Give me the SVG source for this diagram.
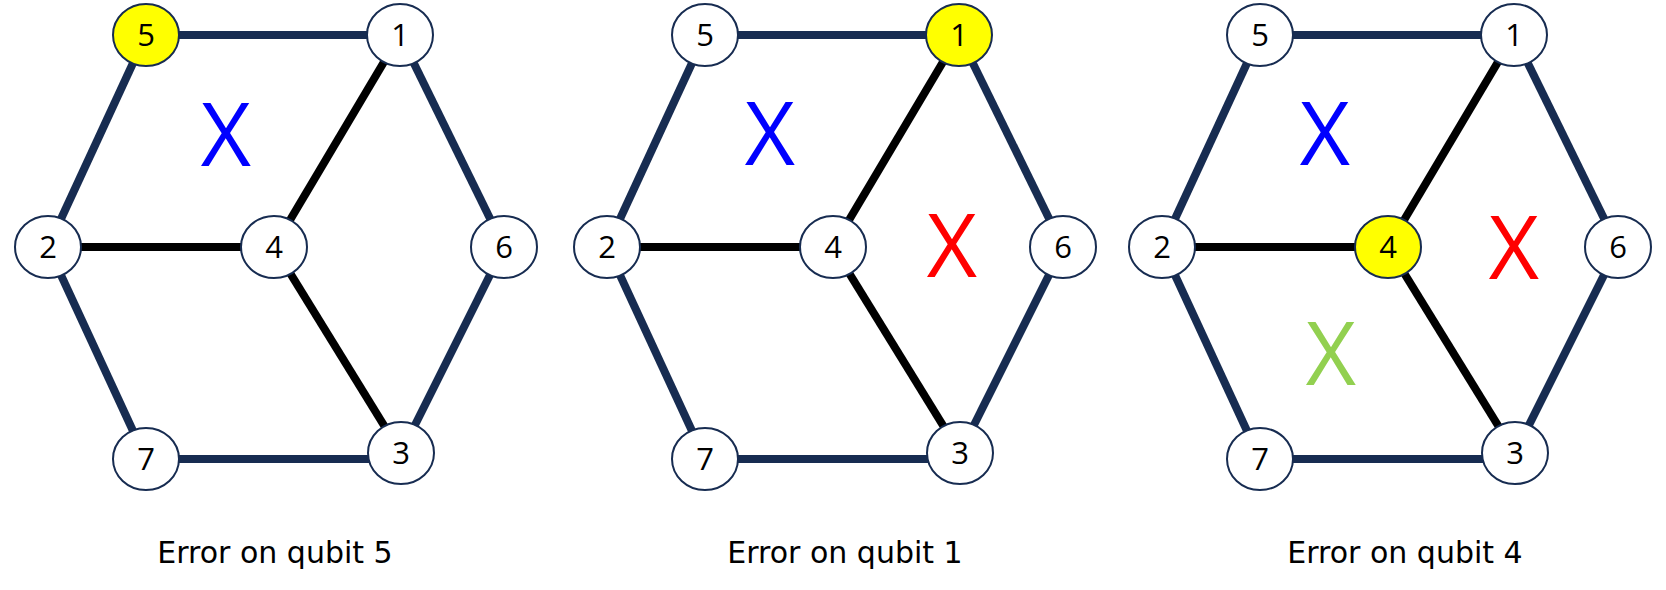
<svg xmlns="http://www.w3.org/2000/svg" width="1666" height="590" viewBox="0 0 1666 590">
<style>
.bg{fill:#ffffff}
.nv{stroke:#172C51;stroke-width:8;fill:none}
.bk{stroke:#000000;stroke-width:8;fill:none}
.nd ellipse{fill:#ffffff;stroke:#172C51;stroke-width:2}
.nd.hl ellipse{fill:#FFFF00}
.nd text{font-family:"Open Sans","Noto Sans",sans-serif;font-size:31px;fill:#000000;text-anchor:middle}
.xl{font-family:"Open Sans","Noto Sans",sans-serif;font-size:87px;text-anchor:middle}
.xb{fill:#0000FF}
.xr{fill:#FF0000}
.xg{fill:#92D050}
.cap{font-family:"DejaVu Sans","Noto Sans",sans-serif;font-size:30px;fill:#000000;text-anchor:middle}
</style>
<rect class="bg" x="0" y="0" width="1666" height="590"/>

<!-- Panel 1 -->
<g id="panel1" transform="translate(146,0)">
  <g id="p1-connectors">
    <line class="nv" x1="0" y1="35" x2="254" y2="35"/>
    <line class="nv" x1="0" y1="35" x2="-98" y2="247"/>
    <line class="nv" x1="-98" y1="247" x2="0" y2="459"/>
    <line class="nv" x1="0" y1="459" x2="235" y2="459"/>
    <line class="nv" x1="254" y1="35" x2="358" y2="247"/>
    <line class="nv" x1="358" y1="247" x2="255" y2="453"/>
    <line class="bk" x1="-98" y1="247" x2="128" y2="247"/>
    <line class="bk" x1="128" y1="247" x2="254" y2="35"/>
    <line class="bk" x1="128" y1="247" x2="255" y2="453"/>
  </g>
  <g id="p1-n5" class="nd hl"><ellipse cx="0" cy="35" rx="33" ry="31"/><text x="0" y="46">5</text></g>
  <g id="p1-n1" class="nd"><ellipse cx="254" cy="35" rx="33" ry="31"/><text x="254" y="46">1</text></g>
  <g id="p1-n2" class="nd"><ellipse cx="-98" cy="247" rx="33" ry="31"/><text x="-98" y="258">2</text></g>
  <g id="p1-n4" class="nd"><ellipse cx="128" cy="247" rx="33" ry="31"/><text x="128" y="258">4</text></g>
  <g id="p1-n6" class="nd"><ellipse cx="358" cy="247" rx="33" ry="31"/><text x="358" y="258">6</text></g>
  <g id="p1-n7" class="nd"><ellipse cx="0" cy="459" rx="33" ry="31"/><text x="0" y="470">7</text></g>
  <g id="p1-n3" class="nd"><ellipse cx="255" cy="453" rx="33" ry="31"/><text x="255" y="464">3</text></g>
  <text class="xl xb" x="80" y="166">X</text>
  <text class="cap" x="129" y="563">Error on qubit 5</text>
</g>

<!-- Panel 2 -->
<g id="panel2" transform="translate(705,0)">
  <g id="p2-connectors">
    <line class="nv" x1="0" y1="35" x2="254" y2="35"/>
    <line class="nv" x1="0" y1="35" x2="-98" y2="247"/>
    <line class="nv" x1="-98" y1="247" x2="0" y2="459"/>
    <line class="nv" x1="0" y1="459" x2="235" y2="459"/>
    <line class="nv" x1="254" y1="35" x2="358" y2="247"/>
    <line class="nv" x1="358" y1="247" x2="255" y2="453"/>
    <line class="bk" x1="-98" y1="247" x2="128" y2="247"/>
    <line class="bk" x1="128" y1="247" x2="254" y2="35"/>
    <line class="bk" x1="128" y1="247" x2="255" y2="453"/>
  </g>
  <g id="p2-n5" class="nd"><ellipse cx="0" cy="35" rx="33" ry="31"/><text x="0" y="46">5</text></g>
  <g id="p2-n1" class="nd hl"><ellipse cx="254" cy="35" rx="33" ry="31"/><text x="254" y="46">1</text></g>
  <g id="p2-n2" class="nd"><ellipse cx="-98" cy="247" rx="33" ry="31"/><text x="-98" y="258">2</text></g>
  <g id="p2-n4" class="nd"><ellipse cx="128" cy="247" rx="33" ry="31"/><text x="128" y="258">4</text></g>
  <g id="p2-n6" class="nd"><ellipse cx="358" cy="247" rx="33" ry="31"/><text x="358" y="258">6</text></g>
  <g id="p2-n7" class="nd"><ellipse cx="0" cy="459" rx="33" ry="31"/><text x="0" y="470">7</text></g>
  <g id="p2-n3" class="nd"><ellipse cx="255" cy="453" rx="33" ry="31"/><text x="255" y="464">3</text></g>
  <text class="xl xb" x="65" y="165">X</text>
  <text class="xl xr" x="247" y="277">X</text>
  <text class="cap" x="140" y="563">Error on qubit 1</text>
</g>

<!-- Panel 3 -->
<g id="panel3" transform="translate(1260,0)">
  <g id="p3-connectors">
    <line class="nv" x1="0" y1="35" x2="254" y2="35"/>
    <line class="nv" x1="0" y1="35" x2="-98" y2="247"/>
    <line class="nv" x1="-98" y1="247" x2="0" y2="459"/>
    <line class="nv" x1="0" y1="459" x2="235" y2="459"/>
    <line class="nv" x1="254" y1="35" x2="358" y2="247"/>
    <line class="nv" x1="358" y1="247" x2="255" y2="453"/>
    <line class="bk" x1="-98" y1="247" x2="128" y2="247"/>
    <line class="bk" x1="128" y1="247" x2="254" y2="35"/>
    <line class="bk" x1="128" y1="247" x2="255" y2="453"/>
  </g>
  <g id="p3-n5" class="nd"><ellipse cx="0" cy="35" rx="33" ry="31"/><text x="0" y="46">5</text></g>
  <g id="p3-n1" class="nd"><ellipse cx="254" cy="35" rx="33" ry="31"/><text x="254" y="46">1</text></g>
  <g id="p3-n2" class="nd"><ellipse cx="-98" cy="247" rx="33" ry="31"/><text x="-98" y="258">2</text></g>
  <g id="p3-n4" class="nd hl"><ellipse cx="128" cy="247" rx="33" ry="31"/><text x="128" y="258">4</text></g>
  <g id="p3-n6" class="nd"><ellipse cx="358" cy="247" rx="33" ry="31"/><text x="358" y="258">6</text></g>
  <g id="p3-n7" class="nd"><ellipse cx="0" cy="459" rx="33" ry="31"/><text x="0" y="470">7</text></g>
  <g id="p3-n3" class="nd"><ellipse cx="255" cy="453" rx="33" ry="31"/><text x="255" y="464">3</text></g>
  <text class="xl xb" x="65" y="165">X</text>
  <text class="xl xr" x="254" y="279">X</text>
  <text class="xl xg" x="71" y="385">X</text>
  <text class="cap" x="145" y="563">Error on qubit 4</text>
</g>
</svg>
